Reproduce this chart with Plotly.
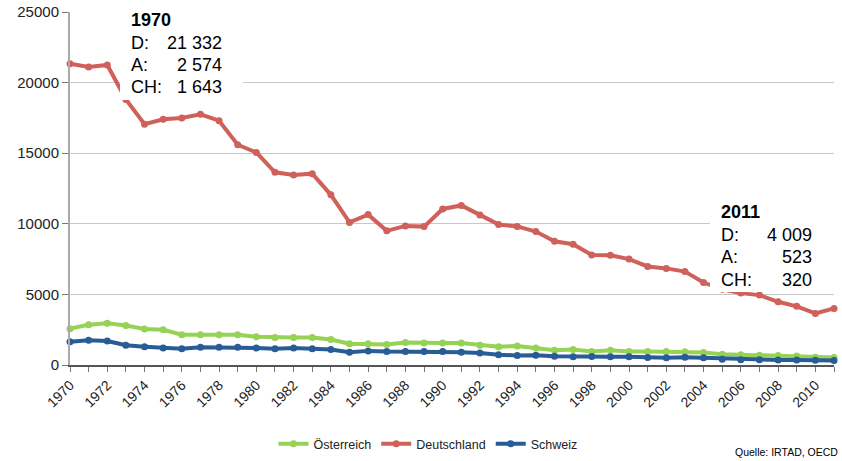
import plotly.graph_objects as go

years = list(range(1970, 2012))

deutschland = [21332, 21100, 21250, 18800, 17050, 17400, 17500, 17750, 17300, 15600,
               15050, 13650, 13450, 13550, 12050, 10100, 10650, 9500, 9850, 9800,
               11050, 11300, 10631, 9949, 9814, 9454, 8758, 8549, 7792, 7772,
               7503, 6977, 6842, 6613, 5842, 5361, 5091, 4949, 4477, 4152,
               3648, 4009]

oesterreich = [2574, 2850, 2950, 2800, 2550, 2500, 2150, 2150, 2150, 2150,
               2000, 1950, 1950, 1950, 1800, 1500, 1500, 1450, 1600, 1550,
               1550, 1550, 1400, 1300, 1350, 1200, 1050, 1100, 950, 1050,
               950, 950, 950, 930, 880, 770, 730, 690, 680, 630,
               550, 523]

schweiz = [1643, 1750, 1700, 1400, 1300, 1200, 1150, 1250, 1250, 1250,
           1200, 1150, 1200, 1150, 1100, 900, 1000, 950, 950, 950,
           950, 900, 850, 720, 680, 690, 620, 590, 600, 580,
           590, 540, 510, 550, 510, 410, 370, 380, 360, 350,
           330, 320]

series_names = ["Österreich", "Deutschland", "Schweiz"]
colors = {"Österreich": "#96D255", "Deutschland": "#D0605A", "Schweiz": "#285C96"}
values = {"Österreich": oesterreich, "Deutschland": deutschland, "Schweiz": schweiz}

box_labels = ["D:", "A:", "CH:"]
first_vals = ["21 332", "2 574", "1 643"]
last_vals = ["4 009", "523", "320"]

FONT = "Liberation Sans, Arial, sans-serif"

fig = go.Figure()
for name in series_names:
    fig.add_trace(go.Scatter(
        x=years, y=values[name], name=name, mode="lines+markers",
        line=dict(color=colors[name], width=4),
        marker=dict(color=colors[name], size=7),
        cliponaxis=False, hoverinfo="skip"))

W, H = 842, 461
L, R, T, B = 70, 8, 12, 96
pw, ph = W - L - R, H - T - B

def px(x):
    return (x - L) / pw

def py(y):
    return (H - B - y) / ph

shapes = [
    dict(type="rect", xref="paper", yref="paper", x0=px(120), x1=px(243), y0=py(100), y1=py(0),
         fillcolor="white", line=dict(width=0), layer="above"),
    dict(type="rect", xref="paper", yref="paper", x0=px(710), x1=px(842), y0=py(292), y1=py(200),
         fillcolor="white", line=dict(width=0), layer="above"),
]

annotations = []

def add_box(x_left, x_right, y_top, year, vals):
    annotations.append(dict(xref="paper", yref="paper", x=px(x_left), y=py(y_top),
                            text="<b>%d</b>" % year, showarrow=False, xanchor="left", yanchor="middle",
                            font=dict(family=FONT, size=18, color="#000")))
    for i, (lab, v) in enumerate(zip(box_labels, vals)):
        yy = y_top + 22.5 * (i + 1)
        annotations.append(dict(xref="paper", yref="paper", x=px(x_left), y=py(yy),
                                text=lab, showarrow=False, xanchor="left", yanchor="middle",
                                font=dict(family=FONT, size=18, color="#000")))
        annotations.append(dict(xref="paper", yref="paper", x=px(x_right), y=py(yy),
                                text=v, showarrow=False, xanchor="right", yanchor="middle",
                                font=dict(family=FONT, size=18, color="#000")))

add_box(129, 224, 20, years[0], first_vals)
add_box(719, 814, 212, years[-1], last_vals)

annotations.append(dict(xref="paper", yref="paper", x=px(840), y=py(452),
                        text="Quelle: IRTAD, OECD", showarrow=False, xanchor="right", yanchor="middle",
                        font=dict(family=FONT, size=10.5, color="#000")))

fig.update_layout(
    width=W, height=H,
    margin=dict(l=L, r=R, t=T, b=B, pad=0, autoexpand=False),
    paper_bgcolor="white", plot_bgcolor="white",
    font=dict(family=FONT, color="#222"),
    showlegend=True,
    legend=dict(orientation="h", x=px(428), xanchor="center", y=py(444), yanchor="middle",
                font=dict(family=FONT, size=12.5, color="#222"), itemwidth=30,
                traceorder="normal"),
    hovermode=False,
    shapes=shapes,
    annotations=annotations,
    xaxis=dict(range=[1970, 2011], tickmode="linear", tick0=1970, dtick=2,
               tickangle=-45, tickfont=dict(size=14, color="#222"),
               showgrid=False, zeroline=False, automargin=False,
               showline=True, linecolor="#555", linewidth=1.5,
               ticks="outside", ticklen=5, tickcolor="#777",
               minor=dict(dtick=1, ticks="outside", ticklen=5, tickcolor="#777", showgrid=False)),
    yaxis=dict(range=[0, 25000], tickmode="linear", tick0=0, dtick=5000, tickformat="d",
               tickfont=dict(size=15, color="#222"), automargin=False,
               showgrid=True, gridcolor="#c8c8c8", gridwidth=1.2,
               zeroline=False, showline=True, linecolor="#aaa", linewidth=2,
               ticks="outside", ticklen=6, tickcolor="#777"),
)

fig.write_html("out.html",
               config={"displayModeBar": False, "staticPlot": True},
               post_script="document.body.style.margin='0';document.body.style.overflow='hidden';")
